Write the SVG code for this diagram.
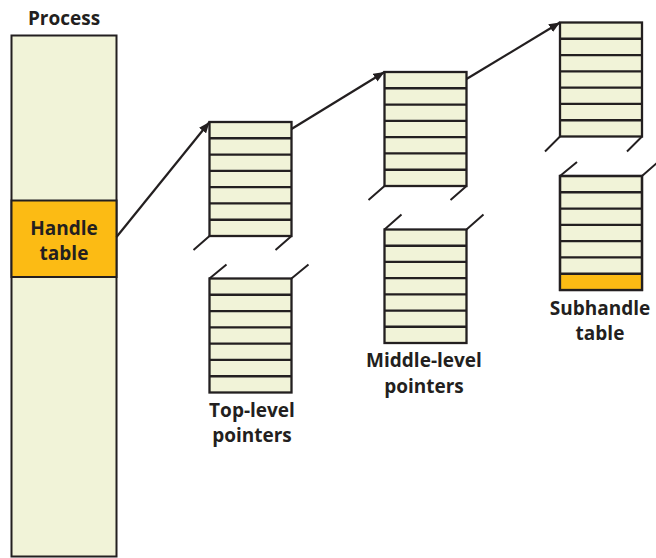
<svg xmlns="http://www.w3.org/2000/svg" width="656" height="558" viewBox="0 0 656 558">
<defs>
<style>
.bg{fill:#ffffff}
.col{fill:#f1f3d8;stroke:#231f20;stroke-width:2}
.hl{fill:#fcbb14;stroke:#231f20;stroke-width:2}
.tbl{fill:#f1f3d8;stroke:#231f20;stroke-width:2.3}
.out{fill:none;stroke:#231f20;stroke-width:2.3}
.row{fill:none;stroke:#231f20;stroke-width:2.4}
.brk{fill:none;stroke:#231f20;stroke-width:2}
.arr{fill:none;stroke:#231f20;stroke-width:2.2}
.lbl{font-family:"Open Sans","Liberation Sans",sans-serif;font-weight:bold;font-size:19px;fill:#231f20;text-anchor:middle}
</style>
<marker id="ah" viewBox="0 0 11 9" refX="11" refY="4.5" markerWidth="11" markerHeight="9" markerUnits="userSpaceOnUse" orient="auto">
<path d="M0,0 L11,4.5 L0,9 Z" fill="#231f20"/>
</marker>
</defs>
<rect class="bg" x="0" y="0" width="656" height="558"/>

<g id="process">
<rect class="col" x="11.5" y="35.5" width="105" height="521"/>
<rect class="hl" x="11.5" y="200.5" width="105" height="76.5"/>
<text class="lbl" x="64" y="25">Process</text>
<text class="lbl" x="64" y="235">Handle</text>
<text class="lbl" x="64" y="259.5">table</text>
</g>

<g id="top-level-upper">
<rect class="tbl" x="209.5" y="122" width="82" height="114"/>
<path class="row" d="M209.5,138.3h82M209.5,154.6h82M209.5,170.9h82M209.5,187.1h82M209.5,203.4h82M209.5,219.7h82"/>
<path class="brk" d="M209.5,236l-16,14M291.5,236l-16,14"/>
</g>

<g id="top-level-lower">
<rect class="tbl" x="209.5" y="278.5" width="82" height="114"/>
<path class="row" d="M209.5,294.8h82M209.5,311.1h82M209.5,327.4h82M209.5,343.6h82M209.5,359.9h82M209.5,376.2h82"/>
<path class="brk" d="M209.5,278.5l17,-14M291.5,278.5l17,-14"/>
<text class="lbl" x="252" y="417">Top-level</text>
<text class="lbl" x="252" y="442">pointers</text>
</g>

<g id="middle-level-upper">
<rect class="tbl" x="384.5" y="72" width="82" height="114"/>
<path class="row" d="M384.5,88.3h82M384.5,104.6h82M384.5,120.9h82M384.5,137.1h82M384.5,153.4h82M384.5,169.7h82"/>
<path class="brk" d="M384.5,186l-16,14M466.5,186l-16,14"/>
</g>

<g id="middle-level-lower">
<rect class="tbl" x="384.5" y="229.5" width="82" height="113.5"/>
<path class="row" d="M384.5,245.7h82M384.5,261.9h82M384.5,278.1h82M384.5,294.4h82M384.5,310.6h82M384.5,326.8h82"/>
<path class="brk" d="M384.5,229.5l17,-15M466.5,229.5l17,-15"/>
<text class="lbl" x="424" y="367">Middle-level</text>
<text class="lbl" x="424" y="392.5">pointers</text>
</g>

<g id="subhandle-upper">
<rect class="tbl" x="560" y="22.5" width="82" height="114"/>
<path class="row" d="M560,38.8h82M560,55.1h82M560,71.4h82M560,87.6h82M560,103.9h82M560,120.2h82"/>
<path class="brk" d="M560,136.5l-15,15M642,136.5l-15,15"/>
</g>

<g id="subhandle-lower">
<rect class="tbl" x="560" y="176" width="82" height="114"/>
<rect x="560" y="274.5" width="82" height="15.5" fill="#fcbb14"/>
<path class="row" d="M560,192.3h82M560,208.6h82M560,224.9h82M560,241.1h82M560,257.4h82M560,273.7h82"/>
<rect class="out" x="560" y="176" width="82" height="114"/>
<path class="brk" d="M560,176l17,-14M642,176l16,-14"/>
<text class="lbl" x="600" y="315">Subhandle</text>
<text class="lbl" x="600" y="340">table</text>
</g>

<g id="connectors">
<path class="arr" d="M116.5,237L209.5,122" marker-end="url(#ah)"/>
<path class="arr" d="M291.5,129L384.5,72" marker-end="url(#ah)"/>
<path class="arr" d="M466.5,79L560,22.5" marker-end="url(#ah)"/>
</g>
</svg>
